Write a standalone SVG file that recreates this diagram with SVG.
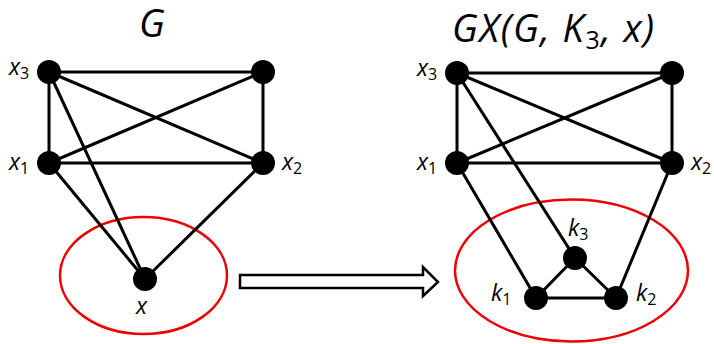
<svg xmlns="http://www.w3.org/2000/svg" width="714" height="344" viewBox="0 0 714 344">
<style>
.e{stroke:#000;stroke-width:3;fill:none;stroke-linecap:round}
.n{fill:#000}
.ring{fill:none;stroke:#ee0000;stroke-width:2.5}
.t{font-family:"Open Sans","Liberation Sans",Arial,sans-serif;font-style:italic;fill:#000}
.lbl{font-size:23px}
.ttl{font-size:38px}
.sub{font-size:16px;font-style:normal}
.tsub{font-size:25px;font-style:normal}
</style>
<rect width="714" height="344" fill="#fff"/>
<g id="rings">
<ellipse class="ring" cx="143.5" cy="275.5" rx="83.5" ry="58.5"/>
<ellipse class="ring" cx="571.5" cy="270.5" rx="116.5" ry="71"/>
</g>
<g id="connectors">
<line class="e" x1="49" y1="72" x2="263" y2="72"/>
<line class="e" x1="49" y1="72" x2="49" y2="163"/>
<line class="e" x1="263" y1="72" x2="263" y2="163"/>
<line class="e" x1="49" y1="163" x2="263" y2="163"/>
<line class="e" x1="49" y1="72" x2="263" y2="163"/>
<line class="e" x1="263" y1="72" x2="49" y2="163"/>
<line class="e" x1="49" y1="72" x2="145" y2="279"/>
<line class="e" x1="49" y1="163" x2="145" y2="279"/>
<line class="e" x1="263" y1="163" x2="145" y2="279"/>
<line class="e" x1="457" y1="73" x2="672" y2="73"/>
<line class="e" x1="457" y1="73" x2="457" y2="163"/>
<line class="e" x1="672" y1="73" x2="672" y2="163"/>
<line class="e" x1="457" y1="163" x2="672" y2="163"/>
<line class="e" x1="457" y1="73" x2="672" y2="163"/>
<line class="e" x1="672" y1="73" x2="457" y2="163"/>
<line class="e" x1="457" y1="73" x2="575" y2="258"/>
<line class="e" x1="457" y1="163" x2="536" y2="298"/>
<line class="e" x1="672" y1="163" x2="616" y2="298"/>
<line class="e" x1="536" y1="298" x2="616" y2="298"/>
<line class="e" x1="536" y1="298" x2="575" y2="258"/>
<line class="e" x1="616" y1="298" x2="575" y2="258"/>
</g>
<g id="arrow">
<path d="M240,275 L423,275 L423,267 L438,282 L423,296 L423,288 L240,288 Z" fill="#fff" stroke="#000" stroke-width="2.5" stroke-linejoin="miter"/>
</g>
<g id="titles">
<text class="t ttl" x="152" y="37" text-anchor="middle">G</text>
<text class="t ttl" x="452" y="42" letter-spacing="1.5">GX(G, K<tspan class="tsub" dy="7">3</tspan><tspan dy="-7">, x)</tspan></text>
</g>
<g id="L-x3"><circle class="n" cx="49" cy="72" r="12"/><text class="t lbl" x="9" y="75">x<tspan class="sub" dy="4">3</tspan></text></g>
<g id="L-tr"><circle class="n" cx="263" cy="72" r="12"/></g>
<g id="L-x1"><circle class="n" cx="49" cy="163" r="12"/><text class="t lbl" x="9" y="170">x<tspan class="sub" dy="4">1</tspan></text></g>
<g id="L-x2"><circle class="n" cx="263" cy="163" r="12"/><text class="t lbl" x="282" y="170">x<tspan class="sub" dy="4">2</tspan></text></g>
<g id="L-x"><circle class="n" cx="145" cy="279" r="12"/><text class="t lbl" x="136" y="314">x</text></g>
<g id="R-x3"><circle class="n" cx="457" cy="73" r="12"/><text class="t lbl" x="417" y="76">x<tspan class="sub" dy="4">3</tspan></text></g>
<g id="R-tr"><circle class="n" cx="672" cy="73" r="12"/></g>
<g id="R-x1"><circle class="n" cx="457" cy="163" r="12"/><text class="t lbl" x="417" y="170">x<tspan class="sub" dy="4">1</tspan></text></g>
<g id="R-x2"><circle class="n" cx="672" cy="163" r="12"/><text class="t lbl" x="691" y="170">x<tspan class="sub" dy="4">2</tspan></text></g>
<g id="R-k3"><circle class="n" cx="575" cy="258" r="12"/><text class="t lbl" x="568" y="236">k<tspan class="sub" dy="4">3</tspan></text></g>
<g id="R-k1"><circle class="n" cx="536" cy="298" r="12"/><text class="t lbl" x="491" y="301">k<tspan class="sub" dy="4">1</tspan></text></g>
<g id="R-k2"><circle class="n" cx="616" cy="298" r="12"/><text class="t lbl" x="636" y="301">k<tspan class="sub" dy="4">2</tspan></text></g>
</svg>
